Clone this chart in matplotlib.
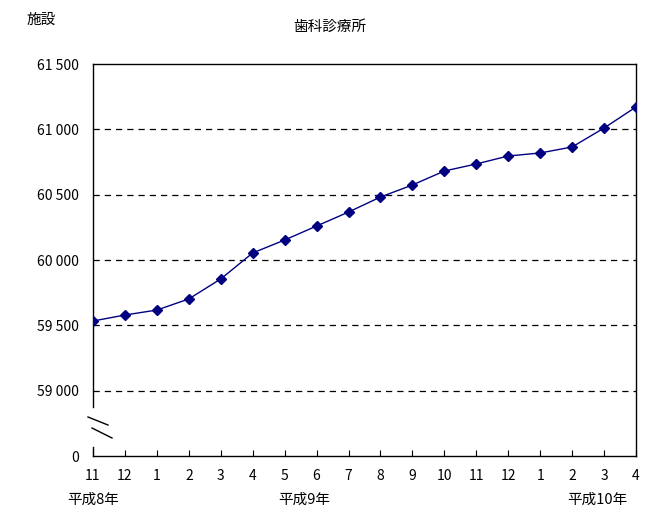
import matplotlib
matplotlib.use("Agg")
import matplotlib.pyplot as plt
from matplotlib.lines import Line2D

plt.rcParams['font.family'] = ['Noto Sans CJK JP', 'DejaVu Sans']

months = ["11", "12", "1", "2", "3", "4", "5", "6", "7", "8", "9", "10", "11", "12", "1", "2", "3", "4"]
values = [59533, 59579, 59617, 59702, 59855, 60054, 60153, 60260, 60367, 60482,
          60574, 60681, 60735, 60796, 60819, 60865, 61010, 61171]
ytick_vals = [58500, 59000, 59500, 60000, 60500, 61000, 61500]
ytick_labels = ["0", "59 000", "59 500", "60 000", "60 500", "61 000", "61 500"]
era_labels = ["平成8年", "平成9年", "平成10年"]
era_positions = [0, 6.6, 15.8]

W, H = 657, 529
fig = plt.figure(figsize=(W / 100, H / 100), dpi=100)
ax = fig.add_axes([93 / W, 1 - 456 / H, 543 / W, 392 / H])

x = list(range(len(months)))
ax.plot(x, values, color="#000080", lw=1.0, marker="D", markersize=5,
        markerfacecolor="#000080", markeredgecolor="#000080", zorder=3)

ax.set_xlim(0, len(months) - 1)
ax.set_ylim(58500, 61500)
ax.set_xticks(x)
ax.set_xticklabels(months, fontsize=10)
ax.set_yticks(ytick_vals)
ax.set_yticklabels(ytick_labels, fontsize=10)
ax.tick_params(axis="x", direction="in", length=4, width=0.8, pad=9)
ax.tick_params(axis="y", direction="in", length=0, pad=10)

for v in ytick_vals[1:-1]:
    ax.axhline(v, color="black", lw=0.9, ls=(0, (5, 4)), zorder=1)

for s in ["top", "right", "bottom"]:
    ax.spines[s].set_linewidth(1.0)
    ax.spines[s].set_color("black")
ax.spines["left"].set_visible(False)

# broken left axis
tr = ax.transAxes
ax.add_line(Line2D([0, 0], [0, 0.023], transform=tr, color="black", lw=1.0, clip_on=False))
ax.add_line(Line2D([0, 0], [0.125, 1], transform=tr, color="black", lw=1.0, clip_on=False))
ax.add_line(Line2D([-0.0092, 0.0276], [0.0995, 0.079], transform=tr, color="black", lw=1.0, clip_on=False))
ax.add_line(Line2D([-0.0018, 0.035], [0.0714, 0.0459], transform=tr, color="black", lw=1.0, clip_on=False))

# era labels
for lab, pos in zip(era_labels, era_positions):
    ax.annotate(lab, xy=(pos, 0), xycoords=("data", "axes fraction"),
                xytext=(0, -44), textcoords="offset pixels",
                ha="center", va="center", fontsize=10.5)

fig.text(41 / W, 1 - 20 / H, "施設", ha="center", va="center", fontsize=10.5)
fig.text(330 / W, 1 - 27 / H, "歯科診療所", ha="center", va="center", fontsize=10.5)

fig.savefig("out.png", dpi=100)
